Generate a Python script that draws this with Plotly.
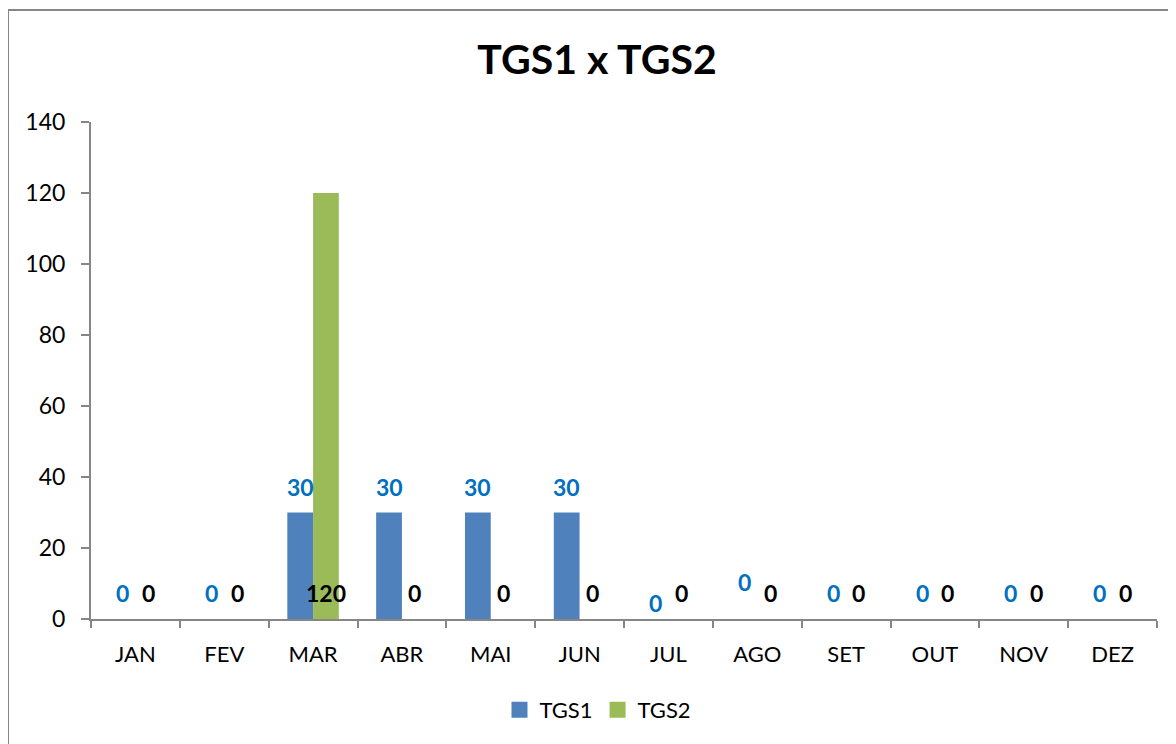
import plotly.graph_objects as go

months = ["JAN", "FEV", "MAR", "ABR", "MAI", "JUN", "JUL", "AGO", "SET", "OUT", "NOV", "DEZ"]
tgs1 = [0, 0, 30, 30, 30, 30, 0, 0, 0, 0, 0, 0]
tgs2 = [0, 0, 120, 0, 0, 0, 0, 0, 0, 0, 0, 0]
series_names = ["TGS1", "TGS2"]

FONT = "Lato"
BLUE = "#4F81BD"
GREEN = "#9BBB59"
LABEL_BLUE = "#0070C0"
AXIS = "#868686"

# pixel shifts of the data labels (Excel manual placements)
label_shift_tgs1 = {"JUL": 16, "AGO": 37}
default_shift = 26
bar_offset_px = 12.9  # half a bar width in pixels (label centred on each bar)

fig = go.Figure()
fig.add_trace(go.Bar(name=series_names[0], x=months, y=tgs1, showlegend=False,
                     marker=dict(color=BLUE, line=dict(width=0))))
fig.add_trace(go.Bar(name=series_names[1], x=months, y=tgs2, showlegend=False,
                     marker=dict(color=GREEN, line=dict(width=0))))
# legend entries with larger square keys (as in the Excel legend)
for name, col in zip(series_names, [BLUE, GREEN]):
    fig.add_trace(go.Scatter(name=name, x=[None], y=[None], mode="markers",
                             marker=dict(symbol="square", size=16, color=col, line=dict(width=0)),
                             showlegend=True, hoverinfo="skip"))

annotations = []
for m, v1, v2 in zip(months, tgs1, tgs2):
    annotations.append(dict(
        x=m, y=v1, xref="x", yref="y", text=f"<b>{v1}</b>", showarrow=False,
        xshift=-bar_offset_px, yshift=label_shift_tgs1.get(m, default_shift), yanchor="middle",
        font=dict(family=FONT, size=23, color=LABEL_BLUE)))
    annotations.append(dict(
        x=m, y=0, xref="x", yref="y", text=f"<b>{v2}</b>", showarrow=False,
        xshift=bar_offset_px, yshift=default_shift, yanchor="middle",
        font=dict(family=FONT, size=23, color="#000000")))

# the page body has an 8px margin, so figure pixel = screen pixel - 8
OFF = 8
W, H = 1176 - OFF, 744 - OFF
L, R, T, B = 91 - OFF, 1157 - OFF, 122 - OFF, 619 - OFF

def px_x(p):
    return (p - OFF - L) / (R - L)

def px_y(p):
    return (B - (p - OFF)) / (B - T)

shapes = [
    dict(type="line", xref="paper", yref="paper", x0=px_x(8), x1=px_x(8), y0=px_y(760), y1=px_y(10),
         line=dict(color=AXIS, width=2)),
    dict(type="line", xref="paper", yref="paper", x0=px_x(7), x1=px_x(1190), y0=px_y(10), y1=px_y(10),
         line=dict(color=AXIS, width=2)),
]

fig.update_layout(
    width=W, height=H,
    margin=dict(l=L, r=W - R, t=T, b=H - B, pad=0),
    paper_bgcolor="white", plot_bgcolor="white",
    barmode="group", bargap=0.42, bargroupgap=0,
    font=dict(family=FONT, size=22, color="#000000"),
    title=dict(text="<b>TGS1 x TGS2</b>", x=(597 - OFF) / W, xref="container", xanchor="center",
               y=1 - (60 - OFF) / H, yref="container", yanchor="middle",
               font=dict(family=FONT, size=41, color="#000000")),
    xaxis=dict(showline=True, linecolor=AXIS, linewidth=2, ticks="outside", tickson="boundaries",
               ticklen=7, tickcolor=AXIS, tickwidth=2, showgrid=False, zeroline=False,
               tickfont=dict(family=FONT, size=22), ticklabelstandoff=15, fixedrange=True),
    yaxis=dict(range=[0, 140], dtick=20, showline=True, linecolor=AXIS, linewidth=2, ticks="outside",
               ticklen=8, tickcolor=AXIS, tickwidth=2, showgrid=False, zeroline=False,
               tickfont=dict(family=FONT, size=23), ticklabelstandoff=11, fixedrange=True),
    legend=dict(orientation="h", x=px_x(598), xanchor="center", y=px_y(710), yanchor="middle",
                font=dict(family=FONT, size=22), bgcolor="rgba(0,0,0,0)", itemwidth=30,
                traceorder="normal"),
    annotations=annotations,
    shapes=shapes,
    showlegend=True,
)

fig.write_html("out.html")
